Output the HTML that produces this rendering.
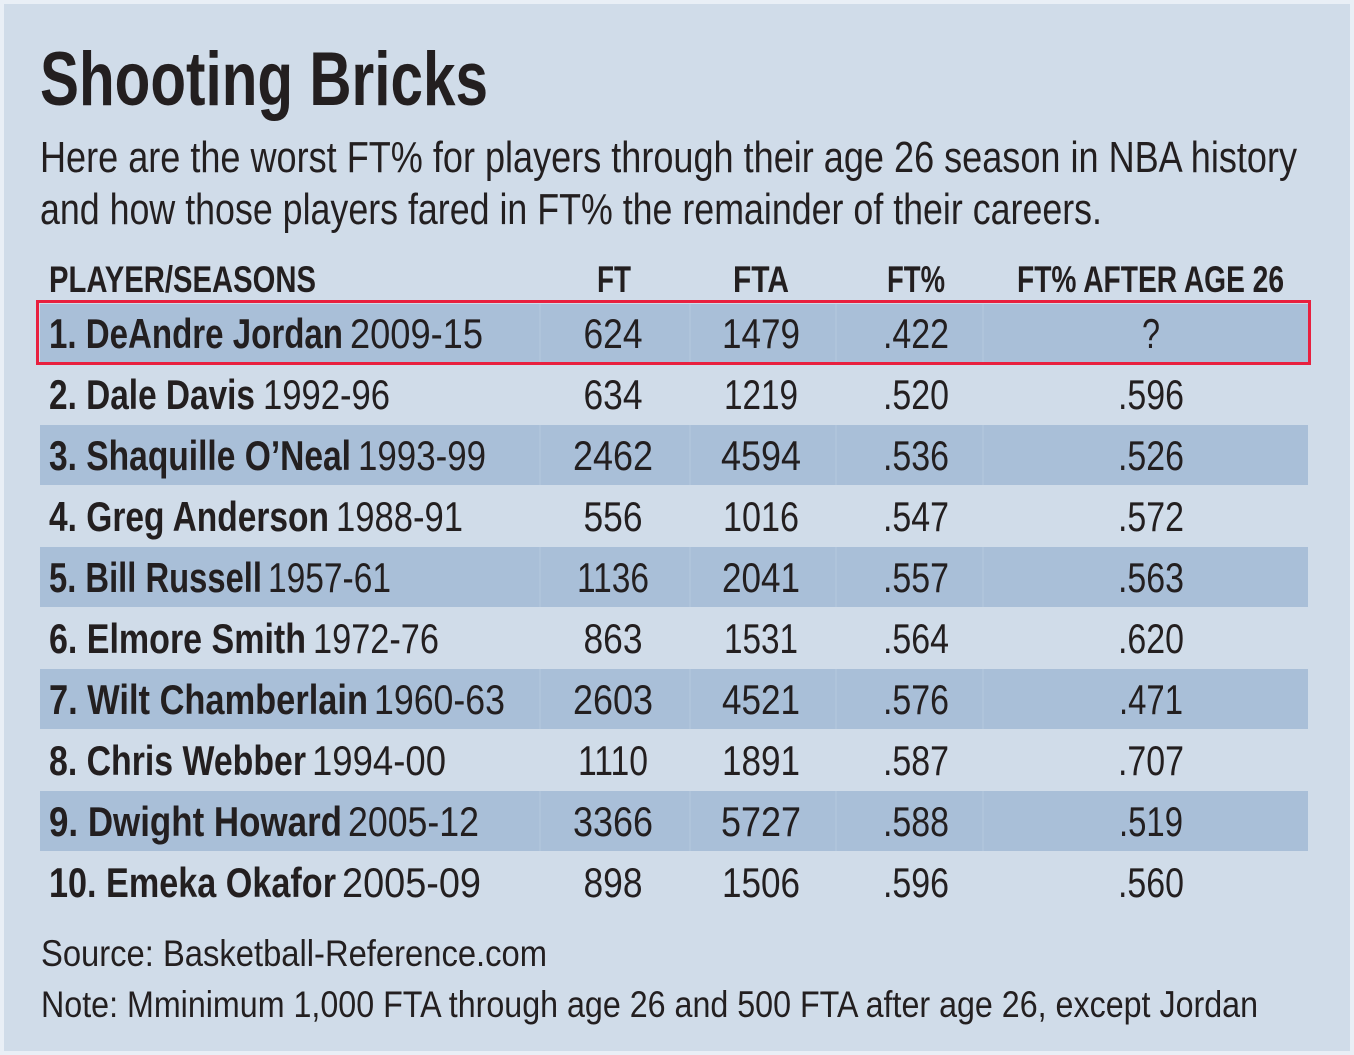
<!DOCTYPE html>
<html><head><meta charset="utf-8"><style>
html,body{margin:0;padding:0;background:#e9eff6}
svg{display:block}
text{font-family:"Liberation Sans",sans-serif;fill:#231f20}
.b{font-weight:bold}
</style></head><body>
<svg width="1354" height="1055" viewBox="0 0 1354 1055" xmlns="http://www.w3.org/2000/svg">
<rect x="0" y="0" width="1354" height="1055" fill="#e9eff6"/>
<rect x="4" y="4" width="1346" height="1047" fill="#d0dce9"/>
<text class="b" x="40" y="105" font-size="76" textLength="448" lengthAdjust="spacingAndGlyphs">Shooting Bricks</text>
<text x="40" y="172" font-size="44" textLength="1257" lengthAdjust="spacingAndGlyphs">Here are the worst FT% for players through their age 26 season in NBA history</text>
<text x="40" y="224" font-size="44" textLength="1062" lengthAdjust="spacingAndGlyphs">and how those players fared in FT% the remainder of their careers.</text>
<g class="b" font-size="37">
<text class="b" x="49" y="292" textLength="267" lengthAdjust="spacingAndGlyphs">PLAYER/SEASONS</text>
<text class="b" x="597" y="292" textLength="34" lengthAdjust="spacingAndGlyphs">FT</text>
<text class="b" x="733" y="292" textLength="56" lengthAdjust="spacingAndGlyphs">FTA</text>
<text class="b" x="887" y="292" textLength="58" lengthAdjust="spacingAndGlyphs">FT%</text>
<text class="b" x="1017" y="292" textLength="267" lengthAdjust="spacingAndGlyphs">FT% AFTER AGE 26</text>
</g>
<g fill="#a9bfd8">
<rect x="40" y="304" width="1268" height="60"/>
<rect x="40" y="425" width="1268" height="60"/>
<rect x="40" y="547" width="1268" height="60"/>
<rect x="40" y="669" width="1268" height="60"/>
<rect x="40" y="791" width="1268" height="60"/>
</g>
<g stroke="#b5c8de" stroke-width="1">
<line x1="540" y1="304" x2="540" y2="364"/><line x1="690" y1="304" x2="690" y2="364"/><line x1="836" y1="304" x2="836" y2="364"/><line x1="983" y1="304" x2="983" y2="364"/>
<line x1="540" y1="425" x2="540" y2="485"/><line x1="690" y1="425" x2="690" y2="485"/><line x1="836" y1="425" x2="836" y2="485"/><line x1="983" y1="425" x2="983" y2="485"/>
<line x1="540" y1="547" x2="540" y2="607"/><line x1="690" y1="547" x2="690" y2="607"/><line x1="836" y1="547" x2="836" y2="607"/><line x1="983" y1="547" x2="983" y2="607"/>
<line x1="540" y1="669" x2="540" y2="729"/><line x1="690" y1="669" x2="690" y2="729"/><line x1="836" y1="669" x2="836" y2="729"/><line x1="983" y1="669" x2="983" y2="729"/>
<line x1="540" y1="791" x2="540" y2="851"/><line x1="690" y1="791" x2="690" y2="851"/><line x1="836" y1="791" x2="836" y2="851"/><line x1="983" y1="791" x2="983" y2="851"/>
</g>
<rect x="37.5" y="301.5" width="1272" height="62" fill="none" stroke="#e8203f" stroke-width="3"/>
<g font-size="42">
<!-- row 1 -->
<text class="b" x="49" y="348" textLength="294" lengthAdjust="spacingAndGlyphs">1. DeAndre Jordan</text>
<text x="350" y="348" textLength="133" lengthAdjust="spacingAndGlyphs">2009-15</text>
<text class="b" x="49" y="409" textLength="206" lengthAdjust="spacingAndGlyphs">2. Dale Davis</text>
<text x="263" y="409" textLength="127" lengthAdjust="spacingAndGlyphs">1992-96</text>
<text class="b" x="49" y="470" textLength="302" lengthAdjust="spacingAndGlyphs">3. Shaquille O’Neal</text>
<text x="358" y="470" textLength="128" lengthAdjust="spacingAndGlyphs">1993-99</text>
<text class="b" x="49" y="531" textLength="280" lengthAdjust="spacingAndGlyphs">4. Greg Anderson</text>
<text x="336" y="531" textLength="127" lengthAdjust="spacingAndGlyphs">1988-91</text>
<text class="b" x="49" y="592" textLength="213" lengthAdjust="spacingAndGlyphs">5. Bill Russell</text>
<text x="268" y="592" textLength="123" lengthAdjust="spacingAndGlyphs">1957-61</text>
<text class="b" x="49" y="653" textLength="257" lengthAdjust="spacingAndGlyphs">6. Elmore Smith</text>
<text x="313" y="653" textLength="126" lengthAdjust="spacingAndGlyphs">1972-76</text>
<text class="b" x="49" y="714" textLength="319" lengthAdjust="spacingAndGlyphs">7. Wilt Chamberlain</text>
<text x="374" y="714" textLength="131" lengthAdjust="spacingAndGlyphs">1960-63</text>
<text class="b" x="49" y="775" textLength="257" lengthAdjust="spacingAndGlyphs">8. Chris Webber</text>
<text x="312" y="775" textLength="134" lengthAdjust="spacingAndGlyphs">1994-00</text>
<text class="b" x="49" y="836" textLength="293" lengthAdjust="spacingAndGlyphs">9. Dwight Howard</text>
<text x="348" y="836" textLength="131" lengthAdjust="spacingAndGlyphs">2005-12</text>
<text class="b" x="49" y="897" textLength="287" lengthAdjust="spacingAndGlyphs">10. Emeka Okafor</text>
<text x="342" y="897" textLength="139" lengthAdjust="spacingAndGlyphs">2005-09</text>
</g>
<g font-size="42" text-anchor="middle">
<text x="613" y="348" textLength="59" lengthAdjust="spacingAndGlyphs">624</text>
<text x="761" y="348" textLength="78" lengthAdjust="spacingAndGlyphs">1479</text>
<text x="916" y="348" textLength="66" lengthAdjust="spacingAndGlyphs">.422</text>
<text x="1151" y="348" textLength="18" lengthAdjust="spacingAndGlyphs">?</text>
<text x="613" y="409" textLength="59" lengthAdjust="spacingAndGlyphs">634</text>
<text x="761" y="409" textLength="74" lengthAdjust="spacingAndGlyphs">1219</text>
<text x="916" y="409" textLength="66" lengthAdjust="spacingAndGlyphs">.520</text>
<text x="1151" y="409" textLength="66" lengthAdjust="spacingAndGlyphs">.596</text>
<text x="613" y="470" textLength="80" lengthAdjust="spacingAndGlyphs">2462</text>
<text x="761" y="470" textLength="80" lengthAdjust="spacingAndGlyphs">4594</text>
<text x="916" y="470" textLength="66" lengthAdjust="spacingAndGlyphs">.536</text>
<text x="1151" y="470" textLength="66" lengthAdjust="spacingAndGlyphs">.526</text>
<text x="613" y="531" textLength="59" lengthAdjust="spacingAndGlyphs">556</text>
<text x="761" y="531" textLength="76" lengthAdjust="spacingAndGlyphs">1016</text>
<text x="916" y="531" textLength="66" lengthAdjust="spacingAndGlyphs">.547</text>
<text x="1151" y="531" textLength="66" lengthAdjust="spacingAndGlyphs">.572</text>
<text x="613" y="592" textLength="72" lengthAdjust="spacingAndGlyphs">1136</text>
<text x="761" y="592" textLength="78" lengthAdjust="spacingAndGlyphs">2041</text>
<text x="916" y="592" textLength="66" lengthAdjust="spacingAndGlyphs">.557</text>
<text x="1151" y="592" textLength="66" lengthAdjust="spacingAndGlyphs">.563</text>
<text x="613" y="653" textLength="59" lengthAdjust="spacingAndGlyphs">863</text>
<text x="761" y="653" textLength="74" lengthAdjust="spacingAndGlyphs">1531</text>
<text x="916" y="653" textLength="66" lengthAdjust="spacingAndGlyphs">.564</text>
<text x="1151" y="653" textLength="66" lengthAdjust="spacingAndGlyphs">.620</text>
<text x="613" y="714" textLength="80" lengthAdjust="spacingAndGlyphs">2603</text>
<text x="761" y="714" textLength="78" lengthAdjust="spacingAndGlyphs">4521</text>
<text x="916" y="714" textLength="66" lengthAdjust="spacingAndGlyphs">.576</text>
<text x="1151" y="714" textLength="64" lengthAdjust="spacingAndGlyphs">.471</text>
<text x="613" y="775" textLength="70" lengthAdjust="spacingAndGlyphs">1110</text>
<text x="761" y="775" textLength="78" lengthAdjust="spacingAndGlyphs">1891</text>
<text x="916" y="775" textLength="66" lengthAdjust="spacingAndGlyphs">.587</text>
<text x="1151" y="775" textLength="66" lengthAdjust="spacingAndGlyphs">.707</text>
<text x="613" y="836" textLength="80" lengthAdjust="spacingAndGlyphs">3366</text>
<text x="761" y="836" textLength="80" lengthAdjust="spacingAndGlyphs">5727</text>
<text x="916" y="836" textLength="66" lengthAdjust="spacingAndGlyphs">.588</text>
<text x="1151" y="836" textLength="64" lengthAdjust="spacingAndGlyphs">.519</text>
<text x="613" y="897" textLength="59" lengthAdjust="spacingAndGlyphs">898</text>
<text x="761" y="897" textLength="78" lengthAdjust="spacingAndGlyphs">1506</text>
<text x="916" y="897" textLength="66" lengthAdjust="spacingAndGlyphs">.596</text>
<text x="1151" y="897" textLength="66" lengthAdjust="spacingAndGlyphs">.560</text>
</g>
<text x="41" y="966" font-size="37" textLength="506" lengthAdjust="spacingAndGlyphs">Source: Basketball-Reference.com</text>
<text x="41" y="1017" font-size="37" textLength="1217" lengthAdjust="spacingAndGlyphs">Note: Mminimum 1,000 FTA through age 26 and 500 FTA after age 26, except Jordan</text>
</svg>
</body></html>
